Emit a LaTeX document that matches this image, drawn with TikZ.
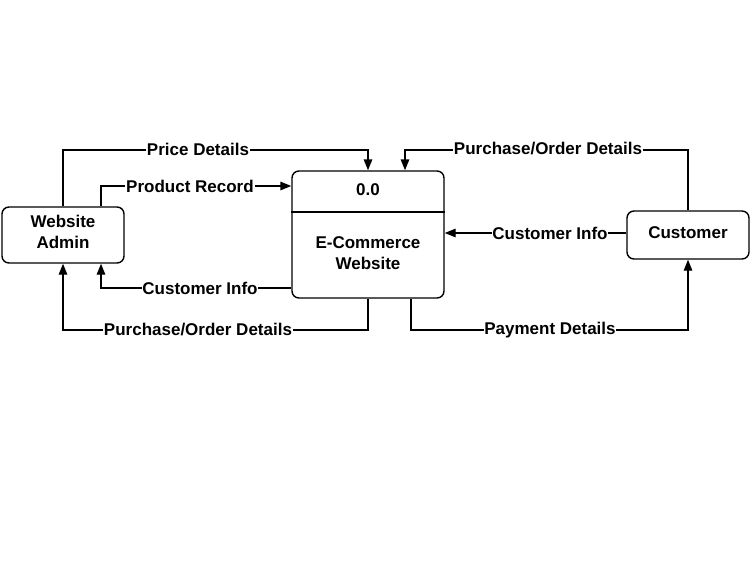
\documentclass[tikz,border=0pt]{standalone}
\usepackage{fontspec}
\setmainfont{Liberation Sans}
\usetikzlibrary{arrows.meta}
\begin{document}
\begin{tikzpicture}[x=1pt,y=-1pt,
  box/.style={draw, rounded corners=7pt, line width=1.4pt, inner sep=0pt},
  txt/.style={font=\bfseries\fontsize{17}{21}\selectfont, align=center, inner sep=0pt},
  lbl/.style={fill=white, inner sep=0.8pt, font=\bfseries\fontsize{17}{20}\selectfont},
  flow/.style={line width=1.4pt, -{Triangle[length=11pt,width=8.5pt]}},
  plain/.style={line width=1.4pt}]
\useasboundingbox[fill=white] (0,0) rectangle (752,570);

% nodes
\node[box, minimum width=122pt, minimum height=56pt] (admin) at (63,235) {};
\node[txt] (admint) at (63,232) {Website\\Admin};
\node[box, minimum width=152pt, minimum height=127pt] (proc) at (368,234.5) {};
\node[txt] (procid) at (368,190) {0.0};
\node[txt] (proct) at (368,253) {E-Commerce\\Website};
\node[box, minimum width=122pt, minimum height=48pt] (cust) at (688,235) {};
\node[txt] (custt) at (688,233) {Customer};

% divider
\coordinate (dl) at (proc.west |- 0,212);
\coordinate (dr) at (proc.east |- 0,212);
\draw[plain] (dl) -- (dr);

% corner coordinates
\coordinate (pdA) at (63,150);
\coordinate (pdB) at (368,150);
\coordinate (prA) at (101,186);
\coordinate (ciA) at (101,288);
\coordinate (poA) at (368,330);
\coordinate (poB) at (63,330);
\coordinate (prtA) at (688,150);
\coordinate (prtB) at (405,150);
\coordinate (pyA) at (411,330);
\coordinate (pyB) at (688,330);

% flows
\draw[flow] (admin.north) -- (pdA) -- (pdB) -- (proc.north);
\draw[flow] (admin.north -| prA) -- (prA) -- (proc.west |- prA);
\draw[flow] (proc.west |- ciA) -- (ciA) -- (admin.south -| ciA);
\draw[flow] (proc.south) -- (poA) -- (poB) -- (admin.south);
\draw[flow] (cust.north) -- (prtA) -- (prtB) -- (proc.north -| prtB);
\draw[flow] (cust.west |- 0,233) -- (proc.east |- 0,233);
\draw[flow] (proc.south -| pyA) -- (pyA) -- (pyB) -- (cust.south);

% labels
\node[lbl] (l1) at (198,149) {Price Details};
\node[lbl] (l2) at (190,186) {Product Record};
\node[lbl] (l3) at (200,288) {Customer Info};
\node[lbl] (l4) at (198,330) {Purchase/Order Details};
\node[lbl] (l5) at (548,149) {Purchase/Order Details};
\node[lbl] (l6) at (550,233) {Customer Info};
\node[lbl] (l7) at (550,330) {Payment Details};
\end{tikzpicture}
\end{document}
